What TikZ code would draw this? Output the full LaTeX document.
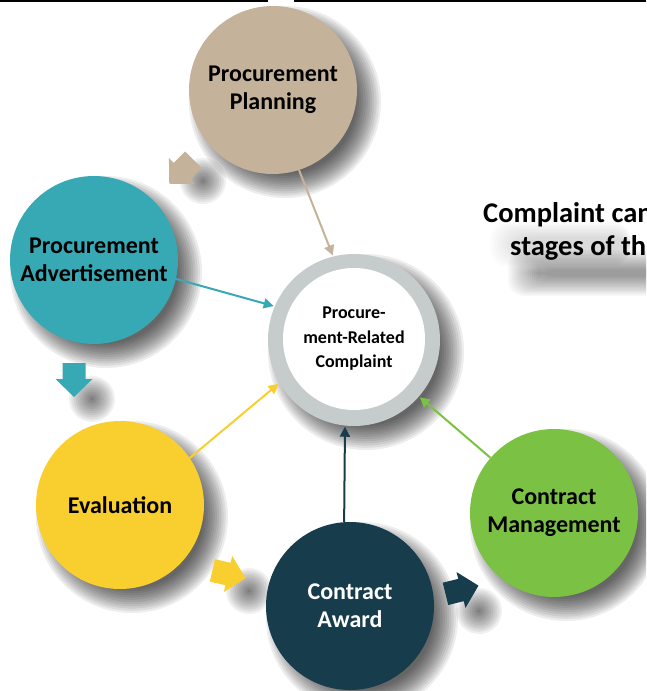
\documentclass[tikz,border=0pt]{standalone}
\usepackage{fontspec}
\setmainfont{Carlito}
\usetikzlibrary{arrows.meta}
\definecolor{tanc}{HTML}{C4B39A}
\definecolor{tealc}{HTML}{37A9B5}
\definecolor{yellowc}{HTML}{F9CE2F}
\definecolor{darkc}{HTML}{173C4B}
\definecolor{greenc}{HTML}{7BC144}
\definecolor{ringc}{HTML}{C6CCCC}
\tikzset{
  stage/.style={circle, minimum size=168pt, inner sep=0pt, align=center,
    font=\bfseries\fontsize{24}{28}\selectfont, text=black},
  link/.style={line width=2pt, -{Triangle[length=10pt,width=10pt]}, shorten >=1pt},
  title/.style={anchor=west, inner sep=0pt, font=\bfseries\fontsize{28.5}{30}\selectfont}
}
% soft shadow of a disc: centre x, centre y, radius, layer opacity
\newcommand{\discshadow}[4]{%
  \foreach \k in {0,...,11}{%
    \fill[black, opacity=#4] (#1,#2) circle[radius={#3+14-2.2*\k}];
  }}
% block arrow polygon pointing along local +x
\newcommand{\blockarr}[4]{%
  \begin{scope}[shift={(#1,#2)}, rotate=#3]
    \fill[#4] (-16,-11.5) -- (0,-11.5) -- (0,-18.5) -- (18,0) -- (0,18.5) -- (0,11.5) -- (-16,11.5) -- cycle;
  \end{scope}}
\begin{document}
\begin{tikzpicture}[x=1pt,y=-1pt]
\path[use as bounding box, clip] (0,0) rectangle (646,691);
\fill[white] (0,0) rectangle (646,691);
% top rule
\coordinate (r1) at (0,0.5);
\coordinate (r2) at (268,0.5);
\coordinate (r3) at (294,0.5);
\coordinate (r4) at (646,0.5);
\draw[line width=2pt] (r1) -- (r2) (r3) -- (r4);
% title shadow (soft smudge)
\foreach \k in {0,...,15}{
  \fill[black, opacity=0.026, rounded corners=16pt] (508+2*\k,250+1.3*\k) rectangle (700,296-1.3*\k);
}
\foreach \k in {0,...,11}{
  \fill[black, opacity=0.01, rounded corners=16pt] (490+2.5*\k,222+1.4*\k) rectangle (630,266-1.4*\k);
}
% shadows of discs
\discshadow{285}{102}{82}{0.07}
\discshadow{106}{272}{82}{0.07}
\discshadow{132}{517}{82}{0.07}
\discshadow{362}{618}{82}{0.07}
\discshadow{566}{525}{82}{0.07}
\discshadow{366}{352}{84}{0.07}
% shadows of block arrows
\discshadow{203}{181}{9}{0.06}
\discshadow{92}{399}{9}{0.06}
\discshadow{249}{591}{9}{0.06}
\discshadow{479}{611}{9}{0.06}
% titles
\node[title] (t1) at (483,215) {Complaint can be filed at all};
\node[title] (t2) at (510,248) {stages of the procurement process};
% hub
\node[circle, minimum size=172pt, inner sep=0pt, fill=ringc] (hub) at (354,340) {};
\node[circle, minimum size=142pt, inner sep=0pt, fill=white, align=center,
  font=\bfseries\fontsize{18}{24.5}\selectfont] (hubin) at (354,339) {Procure-\\ment-Related\\Complaint};
% stages
\node[stage, fill=tanc] (plan) at (273,90) {Procurement\\Planning};
\node[stage, fill=tealc] (adv) at (94,260) {Procurement\\Advertisement};
\node[stage, fill=yellowc] (eval) at (120,505) {Evaluation};
\node[stage, fill=darkc, text=white] (award) at (350,606) {Contract\\Award};
\node[stage, fill=greenc] (mgmt) at (554,513) {Contract\\Management};
% connectors
\draw[link, tanc] (plan.-72) -- (hub.104);
\draw[link, tealc] (adv.-13) -- (hub.157);
\draw[link, yellowc] (eval.34) -- (hub.210);
\draw[link, darkc] (award.94) -- (hub.-96);
\draw[link, greenc] (mgmt.139) -- (hub.-41);
% block arrows
\blockarr{182}{171}{225}{tanc}
\blockarr{74}{379}{-90}{tealc}
\blockarr{228}{574}{-13}{yellowc}
\blockarr{461}{590}{14}{darkc}
\end{tikzpicture}
\end{document}
